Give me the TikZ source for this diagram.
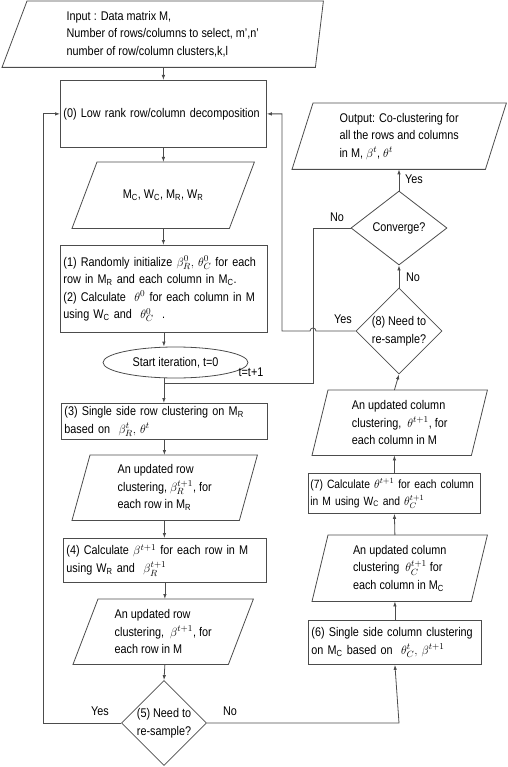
\documentclass[tikz,border=0pt]{standalone}
\usepackage{fontspec}
\setmainfont{Liberation Sans}[FakeStretch=0.86]
\usetikzlibrary{shapes.geometric,arrows.meta,calc}
\newcommand\sbs[1]{\textsubscript{#1}}
\begin{document}
\begin{tikzpicture}[x=1pt,y=-1pt,
  font=\fontsize{12.6}{17.5}\selectfont,
  line/.style={draw=black!70, line width=0.8pt},
  arr/.style={line, -{Latex[length=5pt,width=3.5pt]}},
  proc/.style={line, rectangle, inner sep=3pt, align=left, anchor=north west},
  io/.style={rectangle, inner sep=0pt, align=left, anchor=north west},
  dec/.style={line, diamond, inner sep=0pt},
  lab/.style={inner sep=1pt}
]
\useasboundingbox (0,0) rectangle (507,767);

% ---------- left column ----------
\node[io, minimum width=321, minimum height=66] (in) at (2,1)
  {Input : Data matrix M,\\Number of rows/columns to select, m',n'\\number of row/column clusters,k,l};
\draw[line] ($(in.north west)+(25,0)$) -- (in.north east) -- ($(in.south east)+(-8,0)$) -- (in.south west) -- cycle;

\node[proc, minimum width=206, minimum height=67, text width=200] (b0) at (60,80)
  {\mbox{(0) Low rank row/column decomposition}};

\node[io, align=center, minimum width=182, minimum height=66] (mc) at (72,162)
  {M\sbs{C}, W\sbs{C}, M\sbs{R}, W\sbs{R}};
\draw[line] ($(mc.north west)+(25,0)$) -- (mc.north east) -- ($(mc.south east)+(-25,0)$) -- (mc.south west) -- cycle;

\node[proc, minimum width=207, minimum height=87, text width=201] (b12) at (60,245)
  {\mbox{(1) Randomly initialize $\beta_R^0,\,\theta_C^0$ for each}\\
   \mbox{row in M\sbs{R} and each column in M\sbs{C}.}\\
   \mbox{(2) Calculate \ $\theta^0$ for each column in M}\\
   \mbox{using W\sbs{C} and \ $\theta_C^0$ \ .}};

\node[line, ellipse, minimum width=145, minimum height=31, inner sep=1pt] (el) at (175.5,362.5)
  {Start iteration, t=0};

\node[proc, minimum width=206, minimum height=35, text width=200] (b3) at (61,403)
  {\mbox{(3) Single side row clustering on M\sbs{R}}\\\mbox{based on \ $\beta_R^t,\,\theta^t$}};

\node[io, minimum width=185, minimum height=65] (pr) at (72,455)
  {An updated row\\clustering, $\beta_R^{t+1}$, for\\each row in M\sbs{R}};
\draw[line] ($(pr.north west)+(18,0)$) -- (pr.north east) -- ($(pr.south east)+(-18,0)$) -- (pr.south west) -- cycle;

\node[proc, minimum width=203, minimum height=44, text width=197] (b4) at (63,538)
  {\mbox{(4) Calculate $\beta^{t+1}$ for each row in M}\\\mbox{using W\sbs{R} and \ $\beta_R^{t+1}$}};

\node[io, minimum width=180, minimum height=65] (pm) at (73,599)
  {An updated row\\clustering, \ $\beta^{t+1}$, for\\each row in M};
\draw[line] ($(pm.north west)+(25,0)$) -- (pm.north east) -- ($(pm.south east)+(-25,0)$) -- (pm.south west) -- cycle;

\node[dec, minimum width=85, minimum height=85,
  label={[align=center, inner sep=0pt]center:(5) Need to\\re-sample?}] (d5) at (164,723) {};

% ---------- right column ----------
\node[io, minimum width=214, minimum height=66] (out) at (292,103)
  {Output: Co-clustering for\\all the rows and columns\\in M, $\beta^t$, $\theta^t$};
\draw[line] ($(out.north west)+(21,0)$) -- (out.north east) -- ($(out.south east)+(-21,0)$) -- (out.south west) -- cycle;

\node[dec, minimum width=96, minimum height=74,
  label={[inner sep=0pt]center:Converge?}] (cv) at (399,228) {};

\node[dec, minimum width=86, minimum height=86,
  label={[align=center, inner sep=0pt]center:(8) Need to\\re-sample?}] (d8) at (399,331) {};

\node[io, minimum width=175, minimum height=65] (pt) at (312,390)
  {An updated column\\clustering, \ $\theta^{t+1}$, for\\each column in M};
\draw[line] ($(pt.north west)+(16,0)$) -- (pt.north east) -- ($(pt.south east)+(-16,0)$) -- (pt.south west) -- cycle;

\node[proc, minimum width=172, minimum height=40, text width=168, inner sep=2pt,
  font=\fontsize{12}{17}\selectfont] (b7) at (308,473)
  {\mbox{(7) Calculate $\theta^{t+1}$ for each column}\\\mbox{in M using W\sbs{C} and $\theta_C^{t+1}$}};

\node[io, minimum width=175, minimum height=66] (ptc) at (312,535)
  {An updated column\\clustering \ $\theta_C^{t+1}$ for\\each column in M\sbs{C}};
\draw[line] ($(ptc.north west)+(16,0)$) -- (ptc.north east) -- ($(ptc.south east)+(-16,0)$) -- (ptc.south west) -- cycle;

\node[proc, minimum width=173, minimum height=44, text width=167] (b6) at (308,620)
  {\mbox{(6) Single side column clustering}\\\mbox{on M\sbs{C} based on \ $\theta_C^t,\,\beta^{t+1}$}};

% ---------- connectors ----------
\draw[arr] (b0.north |- in.south) -- (b0.north);
\draw[arr] (b0.south) -- (b0.south |- mc.north);
\draw[arr] (b0.south |- mc.south) -- (b0.south |- b12.north);
\draw[arr] (b12.south) -- (b12.south |- el.north);
\draw[arr] (b12.south |- el.south) -- (b12.south |- b3.north);
\draw[arr] (b3.south) -- (b3.south |- pr.north);
\draw[arr] (b3.south |- pr.south) -- (b3.south |- b4.north);
\draw[arr] (b4.south) -- (b4.south |- pm.north);
\draw[arr] (b4.south |- pm.south) -- (d5.north);

\coordinate (lyes) at (43,723);
\draw[arr] (d5.west) -- (lyes) |- (b0.west);

\coordinate (rno) at (399,723);
\draw[arr] (d5.east) -- (rno) -- (b6.south);

\draw[arr] (b6.north) -- (b6.north |- ptc.south);
\draw[arr] (b6.north |- ptc.north) -- (b7.south);
\draw[arr] (b7.north) -- (b7.north |- pt.south);
\draw[arr] (b7.north |- pt.north) -- (d8.south);
\draw[arr] (d8.north) -- (cv.south);
\draw[arr] (cv.north) -- (cv.north |- out.south);

\coordinate (hopr) at (316,331);
\coordinate (ryes) at (282,331);
\draw[arr] (d8.west) -- (hopr) arc[start angle=0, end angle=-180, radius=3] -- (ryes) |- (b0.east);

\coordinate (cvl) at (313,228);
\coordinate (cvd) at (313,383);
\coordinate (join) at (163.5,383);
\draw[line] (cv.west) -- (cvl) -- (cvd) -- (join);

% ---------- labels ----------
\node[lab] at (100,711) {Yes};
\node[lab] at (230,711) {No};
\node[lab] at (251,372) {t=t+1};
\node[lab] at (343,319) {Yes};
\node[lab] at (337,217) {No};
\node[lab] at (414,179) {Yes};
\node[lab] at (413,277) {No};
\end{tikzpicture}
\end{document}
